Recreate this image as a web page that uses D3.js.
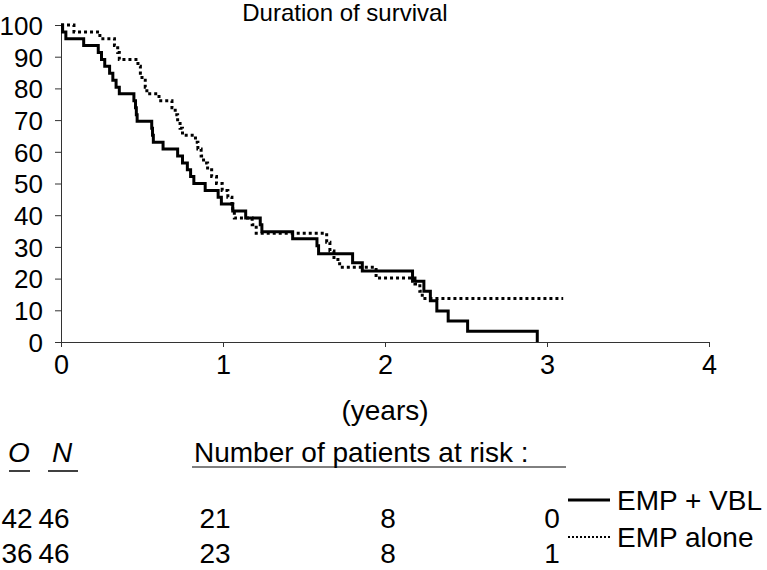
<!DOCTYPE html>
<html>
<head>
<meta charset="utf-8">
<script src="https://cdn.jsdelivr.net/npm/d3@7"></script>
<style>
  html, body { margin: 0; padding: 0; background: #fff; }
  svg { display: block; }
  text { font-family: "Liberation Sans", Arial, Helvetica, sans-serif; fill: #000; }
</style>
</head>
<body>
<svg id="chart" width="767" height="570"></svg>
<script>
// ---- data ----
const title = "Duration of survival";
const xLabel = "(years)";
const xTicks = [0, 1, 2, 3, 4];
const yTicks = [0, 10, 20, 30, 40, 50, 60, 70, 80, 90, 100];

// EMP + VBL (solid) : step times (years) and survival (%)
const vblTimes = [0, 0.01, 0.03, 0.14, 0.23, 0.25, 0.27, 0.30, 0.32, 0.34, 0.36,
  0.45, 0.46, 0.465, 0.47, 0.56, 0.565, 0.57, 0.63, 0.72, 0.75, 0.78, 0.80, 0.82,
  0.89, 0.97, 0.99, 1.06, 1.14, 1.23, 1.24, 1.43, 1.58, 1.59, 1.80, 1.86,
  2.17, 2.24, 2.28, 2.32, 2.39, 2.51, 2.94];
const vblSurv = [100, 97.8, 95.7, 93.5, 91.3, 89.1, 87.0, 84.8, 82.6, 80.4, 78.3,
  76.1, 73.9, 71.7, 69.6, 67.4, 65.2, 63.0, 60.9, 58.7, 56.5, 54.3, 52.2, 50.0,
  47.8, 45.7, 43.5, 41.3, 39.1, 37.0, 34.8, 32.6, 30.4, 27.8, 25.0, 22.4,
  19.2, 16.0, 13.0, 9.8, 6.6, 3.4, 0];

// EMP alone (dotted)
const empTimes = [0, 0.08, 0.24, 0.33, 0.35, 0.36, 0.475, 0.49, 0.50, 0.52, 0.53,
  0.605, 0.685, 0.705, 0.72, 0.735, 0.75, 0.83, 0.845, 0.865, 0.88, 0.905, 0.93,
  0.96, 0.995, 1.03, 1.055, 1.06, 1.07, 1.18, 1.205, 1.64, 1.66, 1.685, 1.72,
  1.945, 2.185, 2.215, 2.23, 3.10];
const empSurv = [100, 97.8, 95.7, 93.5, 91.3, 89.1, 87.0, 84.8, 82.6, 80.4, 78.3,
  76.1, 73.9, 71.7, 69.6, 67.4, 65.2, 63.0, 60.9, 58.7, 56.5, 54.3, 52.2,
  50.0, 47.8, 45.7, 43.5, 41.3, 39.1, 37.0, 34.3, 31.5, 28.7, 26.0, 23.6,
  20.2, 18.3, 16.0, 13.7, 13.7];

// table below the chart
const seriesNames = ["EMP + VBL", "EMP alone"];
const observed = [42, 36];
const numbers = [46, 46];
const riskYears = [1, 2, 3];
const atRisk = [[21, 8, 0], [23, 8, 1]];
const riskHeader = "Number of patients at risk :";

// ---- drawing ----
const svg = d3.select("#chart");
const x = d3.scaleLinear().domain([0, 4]).range([61, 709]);
const y = d3.scaleLinear().domain([0, 100]).range([342, 25]);
const FS = 28;
const TFS = 26;

// title
svg.append("text").attr("x", 345).attr("y", 21).attr("text-anchor", "middle")
  .attr("font-size", 24).text(title);

// y axis
const yAxis = d3.axisLeft(y).tickValues(yTicks).tickSize(6).tickPadding(12);
const gy = svg.append("g").attr("transform", `translate(${x(0)},0)`).call(yAxis);
gy.select(".domain").attr("stroke", "#333").attr("stroke-width", 1);
gy.selectAll(".tick line").attr("stroke", "#333");
gy.selectAll(".tick text").attr("font-size", TFS).attr("font-family", "Liberation Sans, Arial, sans-serif")
  .attr("fill", "#000").attr("dy", "0.36em");

// x axis
const xAxis = d3.axisBottom(x).tickValues(xTicks).tickSize(5).tickPadding(8).tickFormat(d3.format("d"));
const gx = svg.append("g").attr("transform", `translate(0,${y(0)})`).call(xAxis);
gx.select(".domain").attr("stroke", "#333").attr("stroke-width", 1);
gx.selectAll(".tick line").attr("stroke", "#333");
gx.selectAll(".tick text").attr("font-size", 27).attr("font-family", "Liberation Sans, Arial, sans-serif")
  .attr("fill", "#000");

svg.append("text").attr("x", x(2)).attr("y", 420).attr("text-anchor", "middle")
  .attr("font-size", FS).text(xLabel);

// curves
const line = d3.line().x(d => x(d[0])).y(d => y(d[1])).curve(d3.curveStepAfter);
const vblData = vblTimes.map((t, i) => [t, vblSurv[i]]);
const empData = empTimes.map((t, i) => [t, empSurv[i]]);

svg.append("path").datum(empData).attr("d", line).attr("fill", "none")
  .attr("stroke", "#000").attr("stroke-width", 3).attr("stroke-dasharray", "3,3");
svg.append("path").datum(vblData).attr("d", line).attr("fill", "none")
  .attr("stroke", "#000").attr("stroke-width", 3);

// table: O / N headers
const colO = 19, colN = 62;
svg.append("text").attr("x", colO).attr("y", 462).attr("text-anchor", "middle")
  .attr("font-size", FS).attr("font-style", "italic").text("O");
svg.append("text").attr("x", colN).attr("y", 462).attr("text-anchor", "middle")
  .attr("font-size", FS).attr("font-style", "italic").text("N");
svg.append("line").attr("x1", 9).attr("x2", 30).attr("y1", 471).attr("y2", 471)
  .attr("stroke", "#000").attr("stroke-width", 1.5);
svg.append("line").attr("x1", 48).attr("x2", 78).attr("y1", 471).attr("y2", 471)
  .attr("stroke", "#000").attr("stroke-width", 1.5);

svg.append("text").attr("x", 194).attr("y", 462).attr("font-size", FS).text(riskHeader);
svg.append("line").attr("x1", 192).attr("x2", 566).attr("y1", 467).attr("y2", 467)
  .attr("stroke", "#000").attr("stroke-width", 1);

const rowY = [528, 563];
const riskX = { 1: x(1) - 8, 2: x(2) + 3, 3: x(3) + 5 };
seriesNames.forEach((name, i) => {
  svg.append("text").attr("x", 17).attr("y", rowY[i]).attr("text-anchor", "middle")
    .attr("font-size", FS).text(observed[i]);
  svg.append("text").attr("x", 54).attr("y", rowY[i]).attr("text-anchor", "middle")
    .attr("font-size", FS).text(numbers[i]);
  riskYears.forEach((yr, j) => {
    svg.append("text").attr("x", riskX[yr]).attr("y", rowY[i]).attr("text-anchor", "middle")
      .attr("font-size", FS).text(atRisk[i][j]);
  });
});

// legend
const legY = [500, 537];
const legDash = [null, "2,2"];
const legW = [3, 2];
seriesNames.forEach((name, i) => {
  svg.append("line").attr("x1", 568).attr("x2", 610).attr("y1", legY[i]).attr("y2", legY[i])
    .attr("stroke", "#000").attr("stroke-width", legW[i])
    .attr("stroke-dasharray", legDash[i]);
  svg.append("text").attr("x", 617).attr("y", legY[i] + 10).attr("font-size", FS).text(name);
});
</script>
</body>
</html>
